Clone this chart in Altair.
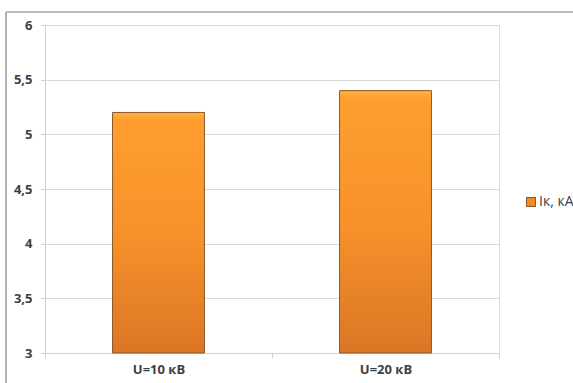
import altair as alt
import pandas as pd

categories = ["U=10 кВ", "U=20 кВ"]
values = [5.2, 5.4]
series_name = "Iк, кА"

df = pd.DataFrame({"cat": categories, "val": values})

FONT = "Open Sans"
LABEL_COLOR = "#404040"

grad = alt.Gradient(
    gradient="linear", x1=0, y1=0, x2=0, y2=1,
    stops=[
        alt.GradientStop(color="#FFB347", offset=0),
        alt.GradientStop(color="#FF9E2E", offset=0.03),
        alt.GradientStop(color="#F7922B", offset=0.5),
        alt.GradientStop(color="#DC7626", offset=1),
    ],
)

bars = alt.Chart(df).mark_bar(
    fill=grad, stroke="#8A5A2A", strokeWidth=1, width=alt.RelativeBandSize(0.405)
).encode(
    x=alt.X("cat:N", sort=categories, title=None,
            scale=alt.Scale(paddingInner=0, paddingOuter=0),
            axis=alt.Axis(labelAngle=0, tickBand="extent", grid=False,
                          labelFont=FONT, labelFontSize=13, labelFontWeight="bold",
                          labelColor=LABEL_COLOR, labelPadding=5, tickSize=5,
                          domainColor="#D0D0D0", tickColor="#D0D0D0")),
    y=alt.Y("val:Q", title=None,
            scale=alt.Scale(domain=[3, 6], zero=False, nice=False),
            axis=alt.Axis(values=[3, 3.5, 4, 4.5, 5, 5.5, 6],
                          labelExpr="replace(toString(datum.value), '.', ',')",
                          labelFont=FONT, labelFontSize=13, labelFontWeight="bold",
                          labelColor=LABEL_COLOR, labelPadding=9, tickSize=4,
                          gridColor="#D9D9D9", domainColor="#D0D0D0", tickColor="#D0D0D0")),
    y2=alt.datum(3),
)

legend_sym = alt.Chart(df).mark_square(
    size=80, fill="#F08A2A", stroke="#8A5A2A", strokeWidth=1, opacity=1
).encode(x=alt.value(486), y=alt.value(177))

legend_txt = alt.Chart(pd.DataFrame({"t": [series_name]})).mark_text(
    align="left", baseline="middle", font=FONT, fontSize=14, color=LABEL_COLOR
).encode(x=alt.value(494), y=alt.value(177), text="t:N")

border_top = alt.Chart(df).mark_rule(color="#A6A6A6", strokeWidth=1.2).encode(
    x=alt.value(-39), x2=alt.value(560), y=alt.value(-13))
border_left = alt.Chart(df).mark_rule(color="#A6A6A6", strokeWidth=1.2).encode(
    x=alt.value(-39), y=alt.value(-13), y2=alt.value(380))

chart = alt.layer(bars, legend_sym, legend_txt, border_top, border_left).properties(
    width=454, height=328,
    autosize=alt.AutoSizeParams(type="none"),
    padding={"left": 45, "top": 25, "right": 74, "bottom": 30},
).configure_view(stroke=None).configure(background="white")

chart.save("out.html", embed_options={"renderer": "svg", "actions": False})
